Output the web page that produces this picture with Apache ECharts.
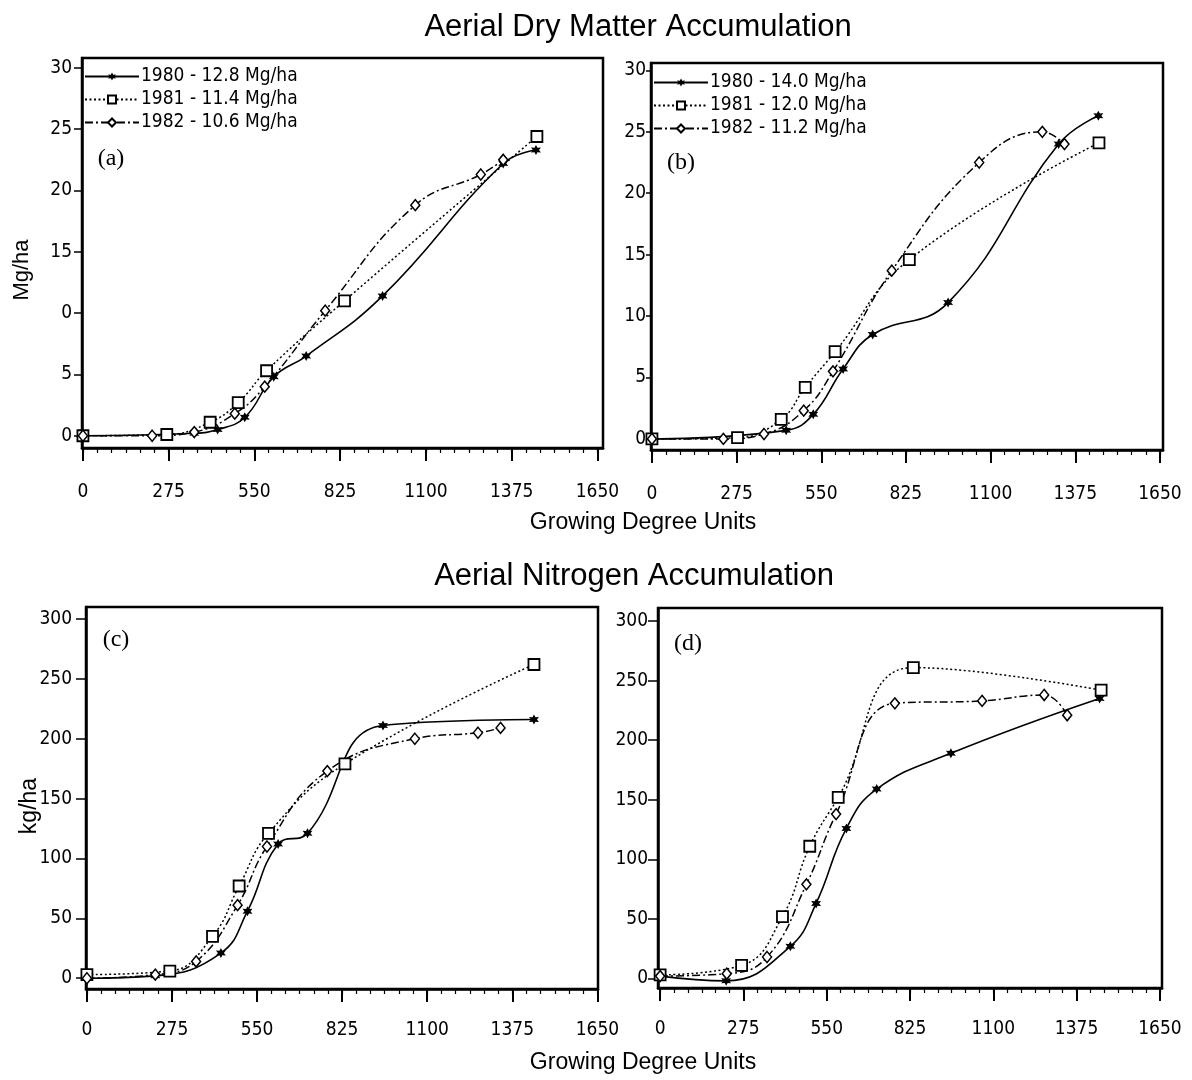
<!DOCTYPE html>
<html><head><meta charset="utf-8">
<script src="https://cdn.jsdelivr.net/npm/echarts@6/dist/echarts.min.js"></script>
<style>html,body{margin:0;padding:0;background:#fff}#c{width:1192px;height:1080px}</style>
</head><body><div id="c"></div>
<script>
// ---- tick values / labels ----
const gddTicks = [0, 275, 550, 825, 1100, 1375, 1650];
const gddTickLabels = ['0', '275', '550', '825', '1100', '1375', '1650'];
const dmTicks = [0, 5, 10, 15, 20, 25, 30];
const dmTickLabelsA = ['0', '5', '0', '15', '20', '25', '30'];
const dmTickLabelsB = ['0', '5', '10', '15', '20', '25', '30'];
const nTicks = [0, 50, 100, 150, 200, 250, 300];
const nTickLabels = ['0', '50', '100', '150', '200', '250', '300'];

// ---- legend names ----
const namesA = ['1980 - 12.8 Mg/ha', '1981 - 11.4 Mg/ha', '1982 - 10.6 Mg/ha'];
const namesB = ['1980 - 14.0 Mg/ha', '1981 - 12.0 Mg/ha', '1982 - 11.2 Mg/ha'];
const namesC = ['1980', '1981', '1982'];
const namesD = ['1980 ', '1981 ', '1982 '];

// ---- (a) aerial dry matter, Mg/ha ----
const gddA80 = [0, 357, 432, 519, 612, 716, 961, 1348, 1453];
const dmA80  = [0, 0.2, 0.5, 1.5, 4.8, 6.5, 11.4, 22.2, 23.3];
const gddA81 = [0, 269, 408, 498, 589, 839, 1456];
const dmA81  = [0, 0.1, 1.1, 2.7, 5.3, 11.0, 24.4];
const gddA82 = [0, 222, 357, 487, 583, 777, 1066, 1276, 1348];
const dmA82  = [0, 0.0, 0.3, 1.8, 4.0, 10.2, 18.8, 21.3, 22.5];

// ---- (b) aerial dry matter, Mg/ha ----
const gddB80 = [0, 436, 524, 621, 717, 962, 1321, 1450];
const dmB80  = [0, 0.7, 2.0, 5.7, 8.5, 11.1, 24.0, 26.3];
const gddB81 = [0, 278, 420, 498, 595, 836, 1452];
const dmB81  = [0, 0.1, 1.6, 4.2, 7.1, 14.6, 24.1];
const gddB82 = [0, 232, 364, 493, 588, 779, 1063, 1268, 1340];
const dmB82  = [0, 0.0, 0.4, 2.3, 5.5, 13.7, 22.5, 25.0, 24.0];

// ---- (c) aerial nitrogen, kg/ha ----
const gddC80 = [0, 221, 433, 519, 618, 713, 957, 1445];
const nC80   = [0, 2, 21, 56, 112, 121, 211, 216];
const gddC81 = [0, 268, 406, 492, 587, 834, 1445];
const nC81   = [3, 6, 35, 77, 121, 179, 262];
const gddC82 = [0, 221, 353, 487, 582, 777, 1060, 1264, 1337];
const nC82   = [0, 3, 14, 61, 110, 173, 200, 205, 209];

// ---- (d) aerial nitrogen, kg/ha ----
const gddD80 = [0, 218, 430, 515, 615, 715, 960, 1451];
const nD80   = [2, -2, 27, 63, 126, 159, 189, 235];
const gddD81 = [0, 269, 404, 494, 588, 836, 1456];
const nD81   = [3, 11, 52, 111, 152, 261, 242];
const gddD82 = [0, 220, 353, 483, 581, 775, 1063, 1268, 1344];
const nD82   = [2, 4, 18, 79, 138, 231, 233, 238, 221];

const zip = (xs, ys) => xs.map((x, i) => [x, ys[i]]);
const minorGdd = [];
for (let v = 0; v <= 1650.01; v += 275 / 6) minorGdd.push(+v.toFixed(3));

const NARROW = '"Liberation Sans Narrow", "DejaVu Sans Condensed", "Liberation Sans", sans-serif';
const SANS = '"Liberation Sans", Arial, sans-serif';
const SERIF = '"Liberation Serif", "DejaVu Serif", serif';
const STAR = 'path://M0,-10 L2.6,-4.5 L8.7,-5 L5.2,0 L8.7,5 L2.6,4.5 L0,10 L-2.6,4.5 L-8.7,5 L-5.2,0 L-8.7,-5 L-2.6,-4.5 Z';

const grids = [
  { left: 82, top: 58, width: 521, height: 390 },
  { left: 651, top: 63, width: 512, height: 387 },
  { left: 86, top: 607, width: 512, height: 382 },
  { left: 658, top: 608, width: 504, height: 380 }
];
const xRanges = [[-3, 1668], [-3, 1660], [-3, 1652], [-7, 1657]];
const yRanges = [[-1, 30.8], [-0.9, 30.6], [-9, 310], [-8, 311]];
const yTickSets = [dmTicks, dmTicks, nTicks, nTicks];
const yLabelSets = [dmTickLabelsA, dmTickLabelsB, nTickLabels, nTickLabels];
const yLabelMargin = [10, 5, 14, 10];
const yTickLen = [8, 5, 10, 10];
const xLabelMargin = [35, 35, 32, 32];

const xAxes = [], yAxes = [];
grids.forEach((g, i) => {
  xAxes.push({
    type: 'value', gridIndex: i, position: 'bottom', min: xRanges[i][0], max: xRanges[i][1],
    splitLine: { show: false },
    axisLine: { show: true, onZero: false, lineStyle: { color: '#000', width: 2.5 } },
    axisTick: { show: true, inside: false, length: 13, customValues: gddTicks, lineStyle: { color: '#000', width: 2 } },
    axisLabel: { show: true, customValues: gddTicks, margin: xLabelMargin[i], color: '#000',
      fontFamily: NARROW, fontSize: 19,
      formatter: v => gddTickLabels[gddTicks.indexOf(v)] }
  });
  yAxes.push({
    type: 'value', gridIndex: i, position: 'left', min: yRanges[i][0], max: yRanges[i][1],
    splitLine: { show: false },
    axisLine: { show: true, onZero: false, lineStyle: { color: '#000', width: 2.5 } },
    axisTick: { show: true, inside: false, length: yTickLen[i], customValues: yTickSets[i], lineStyle: { color: '#000', width: 1.5 } },
    axisLabel: { show: true, customValues: yTickSets[i], margin: yLabelMargin[i], color: '#000',
      fontFamily: NARROW, fontSize: 19,
      formatter: v => yLabelSets[i][yTickSets[i].indexOf(v)] }
  });
});
// minor tick axes (bottom)
grids.forEach((g, i) => {
  xAxes.push({
    type: 'value', gridIndex: i, position: 'bottom', offset: 0, min: xRanges[i][0], max: xRanges[i][1],
    splitLine: { show: false }, axisLine: { show: false, onZero: false },
    axisTick: { show: true, inside: false, length: 5, customValues: minorGdd, lineStyle: { color: '#000', width: 1.2 } },
    axisLabel: { show: false }
  });
});

function mk(name, data, idx, kind) {
  const base = {
    name, type: 'line', data, xAxisIndex: idx, yAxisIndex: idx, smooth: 0.45,
    clip: false, showAllSymbol: true, z: 3, animation: false
  };
  if (kind === 0) {
    return Object.assign(base, {
      symbol: STAR, symbolSize: 10,
      itemStyle: { color: '#000', borderColor: '#000', borderWidth: 0 },
      lineStyle: { color: '#000', width: 1.6, type: 'solid' }
    });
  } else if (kind === 1) {
    return Object.assign(base, {
      symbol: 'rect', symbolSize: 11,
      itemStyle: { color: '#fff', borderColor: '#000', borderWidth: 1.8 },
      lineStyle: { color: '#000', width: 1.5, type: [2, 2.5] }
    });
  }
  return Object.assign(base, {
    symbol: 'diamond', symbolSize: [9, 11],
    itemStyle: { color: '#fff', borderColor: '#000', borderWidth: 1.5 },
    lineStyle: { color: '#000', width: 1.5, type: [8, 3, 2, 3] }
  });
}

const series = [
  mk(namesA[0], zip(gddA80, dmA80), 0, 0),
  mk(namesA[1], zip(gddA81, dmA81), 0, 1),
  mk(namesA[2], zip(gddA82, dmA82), 0, 2),
  mk(namesB[0], zip(gddB80, dmB80), 1, 0),
  mk(namesB[1], zip(gddB81, dmB81), 1, 1),
  mk(namesB[2], zip(gddB82, dmB82), 1, 2),
  mk(namesC[0], zip(gddC80, nC80), 2, 0),
  mk(namesC[1], zip(gddC81, nC81), 2, 1),
  mk(namesC[2], zip(gddC82, nC82), 2, 2),
  mk(namesD[0], zip(gddD80, nD80), 3, 0),
  mk(namesD[1], zip(gddD81, nD81), 3, 1),
  mk(namesD[2], zip(gddD82, nD82), 3, 2)
];

const legendCommon = {
  orient: 'vertical', itemWidth: 54, itemHeight: 10, itemGap: 4, padding: 0,
  selectedMode: false,
  textStyle: { color: '#000', fontFamily: NARROW, fontSize: 19, padding: [0, 0, 0, -3] }
};

const txt = (x, y, text, font, size, align, rot) => ({
  type: 'text', x, y, rotation: rot || 0,
  style: { text, fill: '#000', font: size + 'px ' + font, textAlign: align || 'center', textVerticalAlign: 'middle' }
});

const option = {
  backgroundColor: '#fff',
  animation: false,
  grid: grids.map(g => Object.assign({ show: true, borderColor: '#000', borderWidth: 2.5, backgroundColor: 'transparent' }, g)),
  xAxis: xAxes,
  yAxis: yAxes,
  legend: [
    Object.assign({ data: namesA, left: 84, top: 67 }, legendCommon),
    Object.assign({ data: namesB, left: 653, top: 73 }, legendCommon)
  ],
  series,
  graphic: [
    txt(638, 27, 'Aerial Dry Matter Accumulation', SANS, 31),
    txt(634, 576, 'Aerial Nitrogen Accumulation', SANS, 31),
    txt(643, 523, 'Growing Degree Units', SANS, 23),
    txt(643, 1063, 'Growing Degree Units', SANS, 23),
    txt(22, 270, 'Mg/ha', SANS, 22, 'center', Math.PI / 2),
    txt(30, 806, 'kg/ha', SANS, 23, 'center', Math.PI / 2),
    txt(111, 159, '(a)', SERIF, 24),
    txt(681, 163, '(b)', SERIF, 24),
    txt(116, 640, '(c)', SERIF, 24),
    txt(688, 644, '(d)', SERIF, 24)
  ]
};

const chart = echarts.init(document.getElementById('c'), null, { renderer: 'canvas' });
chart.setOption(option);
</script>
</body></html>
